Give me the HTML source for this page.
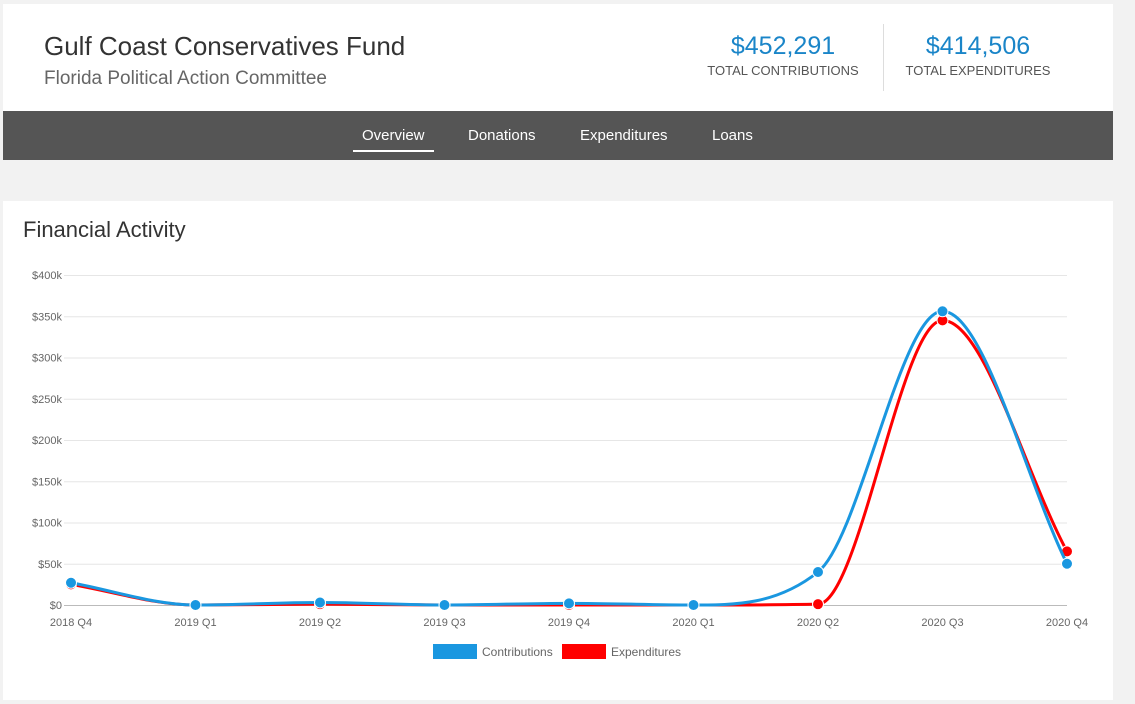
<!DOCTYPE html>
<html><head><meta charset="utf-8"><style>
body{margin:0;width:1135px;height:704px;background:#f2f2f2;font-family:"Liberation Sans",sans-serif;overflow:hidden;position:relative}
.hdr{position:absolute;left:3px;top:4px;width:1110px;height:107px;background:#fff}
.t1{position:absolute;left:41px;top:27px;font-size:26px;color:#333}
.t2{position:absolute;left:41px;top:64px;font-size:19px;color:#666}
.stat{position:absolute;top:28px;text-align:center;color:#555;font-size:13px}
.stat b{display:block;font-weight:normal;font-size:25px;color:#1a85c8;margin-bottom:2px}
.div{position:absolute;left:880px;top:20px;width:1px;height:67px;background:#ddd}
.nav{position:absolute;left:3px;top:111px;width:1110px;height:49px;background:#555}
.nav span{position:absolute;top:16px;color:#fff;font-size:15px}
.card{position:absolute;left:3px;top:201px;width:1110px;height:499px;background:#fff}
.ct{position:absolute;left:20px;top:16px;font-size:22px;color:#333}
</style></head><body>
<div class="hdr">
<div class="t1">Gulf Coast Conservatives Fund</div>
<div class="t2">Florida Political Action Committee</div>
<div class="stat" style="left:700px;width:160px"><b>$452,291</b>TOTAL CONTRIBUTIONS</div>
<div class="div"></div>
<div class="stat" style="left:900px;width:150px"><b>$414,506</b>TOTAL EXPENDITURES</div>
</div>
<div class="nav">
<span style="border-bottom:2px solid #fff;padding:0 9px 6px;left:350px">Overview</span>
<span style="left:465px">Donations</span>
<span style="left:577px">Expenditures</span>
<span style="left:709px">Loans</span>
</div>
<div class="card">
<div class="ct">Financial Activity</div>
</div>
<svg id="ch" width="1135" height="704" style="position:absolute;left:0;top:0"></svg>
<script>
const categories=["2018 Q4","2019 Q1","2019 Q2","2019 Q3","2019 Q4","2020 Q1","2020 Q2","2020 Q3","2020 Q4"];
const contributions=[27000,0,3000,0,2000,0,40000,356000,50000];
const expenditures=[25000,0,1000,0,0,0,1000,345000,65000];
const yTicks=[0,50000,100000,150000,200000,250000,300000,350000,400000];
const yTickLabels=["$0","$50k","$100k","$150k","$200k","$250k","$300k","$350k","$400k"];
const svg=document.getElementById('ch');const NS="http://www.w3.org/2000/svg";
const X=i=>71+i*(1067-71)/(categories.length-1);
const Y=v=>605-v*(330/400000);
function mk(t,a,p){const e=document.createElementNS(NS,t);for(const k in a)e.setAttribute(k,a[k]);(p||svg).appendChild(e);return e;}
yTicks.forEach((v,i)=>{
const g=mk('line',{x1:64,x2:1067,y1:Y(v)+.5,y2:Y(v)+.5,stroke:i==0?'#bbb':'#e6e6e6'});


const t=mk('text',{x:62,y:Y(v)+4,'text-anchor':'end','font-size':11,fill:'#666'});t.textContent=yTickLabels[i];


});
categories.forEach((c,i)=>{
const t=mk('text',{x:X(i),y:626,'text-anchor':'middle','font-size':11,fill:'#666'});t.textContent=c;


});
function path(vals){
const p=vals.map((v,i)=>[X(i),Y(v)]);const n=p.length;
const dl=[],m=[];
for(let i=0;i<n-1;i++)dl.push((p[i+1][1]-p[i][1])/(p[i+1][0]-p[i][0]));
for(let i=0;i<n;i++){
if(i==0)m.push(dl[0]);else if(i==n-1)m.push(dl[n-2]);
else m.push(dl[i-1]*dl[i]<=0?0:(dl[i-1]+dl[i])/2);}
for(let i=0;i<n-1;i++){
if(dl[i]==0){m[i]=0;m[i+1]=0;continue;}
const a=m[i]/dl[i],b=m[i+1]/dl[i],s=a*a+b*b;
if(s>9){const t=3/Math.sqrt(s);m[i]=t*a*dl[i];m[i+1]=t*b*dl[i];}}
let d=`M${p[0][0]},${p[0][1]}`;
for(let i=0;i<n-1;i++){const h=(p[i+1][0]-p[i][0])/3;
d+=` C${p[i][0]+h},${p[i][1]+m[i]*h} ${p[i+1][0]-h},${p[i+1][1]-m[i+1]*h} ${p[i+1][0]},${p[i+1][1]}`;}
return d;}
[[expenditures,'#ff0000','expenditures'],[contributions,'#1a97e0','contributions']].forEach(([vals,col,nm])=>{
const l=mk('path',{d:path(vals),fill:'none',stroke:col,'stroke-width':3});


vals.forEach((v,i)=>{const c=mk('circle',{cx:X(i),cy:Y(v),r:5.5,fill:col,stroke:'#fff','stroke-width':1});

});
});
[[433,'#1a97e0','Contributions'],[562,'#ff0000','Expenditures']].forEach(([x,col,lab])=>{
const r=mk('rect',{x:x,y:644,width:44,height:15,fill:col});


const t=mk('text',{x:x+49,y:656,'font-size':12,fill:'#666'});t.textContent=lab;


});
</script>
</body></html>
